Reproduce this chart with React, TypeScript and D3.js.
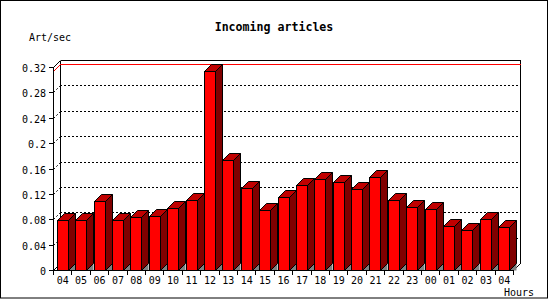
import React from "react";
import * as d3 from "d3";

const hours = ["04","05","06","07","08","09","10","11","12","13","14","15","16","17","18","19","20","21","22","23","00","01","02","03","04"];
const artPerSec = [0.079,0.079,0.109,0.079,0.084,0.085,0.098,0.110,0.313,0.173,0.130,0.094,0.115,0.134,0.143,0.138,0.127,0.146,0.111,0.099,0.096,0.069,0.063,0.080,0.067];
const yTicks = [0,0.04,0.08,0.12,0.16,0.2,0.24,0.28,0.32];
const yTickLabels = ["0","0.04","0.08","0.12","0.16","0.2","0.24","0.28","0.32"];

const W = 550, H = 300;
const D = 7;
const left = 53, right = 513, bottom = 270, top = 67;
const FONT = "'DejaVu Sans Mono', 'Liberation Mono', monospace";

export default function App() {
  const x = d3.scaleBand<number>().domain(hours.map((_, i) => i)).range([left, right]).padding(0);
  const y = d3.scaleLinear().domain([0, 0.32]).range([bottom, top]);
  const maxV = d3.max(artPerSec) as number;
  const ym = Math.round(y(maxV));
  const bw = 11;

  return (
    <svg width={W} height={H} style={{ position: "fixed", left: 0, top: 0, background: "#fff" }}>
      <rect x={0.5} y={0.5} width={547} height={297.5} fill="#fff" stroke="#000" strokeWidth={1} />
      <text x={274} y={27} textAnchor="middle" dominantBaseline="central" fontFamily={FONT} fontWeight="bold" fontSize={11.6}>Incoming articles</text>
      <text x={29} y={37.5} dominantBaseline="central" fontFamily={FONT} fontSize={10}>Art/sec</text>
      <text x={504} y={292} dominantBaseline="central" fontFamily={FONT} fontSize={10}>Hours</text>

      {/* gridlines on back plane */}
      <g shapeRendering="crispEdges">
        {yTicks.slice(1, -1).map((t, i) => {
          const yy = Math.round(y(t)) + 0.5;
          return (
            <g key={i}>
              <line x1={left + D} x2={right + D} y1={yy - D} y2={yy - D} stroke="#000" strokeDasharray="2,2" />
            </g>
          );
        })}
      </g>
      {yTicks.slice(1, -1).map((t, i) => {
        const yy = Math.round(y(t)) + 0.5;
        return <line key={i} x1={left + 0.5} y1={yy} x2={left + D + 0.5} y2={yy - D} stroke="#000" strokeDasharray="2,2" />;
      })}

      {/* back frame */}
      <g shapeRendering="crispEdges" stroke="#000" fill="none">
        <line x1={left + D + 0.5} x2={right + D + 0.5} y1={top - D + 0.5} y2={top - D + 0.5} />
        <line x1={left + D + 0.5} x2={left + D + 0.5} y1={top - D + 0.5} y2={bottom - D + 0.5} />
        <line x1={right + D + 0.5} x2={right + D + 0.5} y1={top - D + 0.5} y2={bottom - D + 0.5} />
      </g>
      <line x1={left + 0.5} y1={top + 0.5} x2={left + D + 0.5} y2={top - D + 0.5} stroke="#000" />
      <line x1={left + 0.5} y1={bottom + 0.5} x2={left + D + 0.5} y2={bottom - D + 0.5} stroke="#000" />
      <line x1={right + 0.5} y1={bottom + 0.5} x2={right + D + 0.5} y2={bottom - D + 0.5} stroke="#000" />

      {/* max line */}
      <line x1={left + D} x2={right + D + 1} y1={ym - D + 0.5} y2={ym - D + 0.5} stroke="#f00" shapeRendering="crispEdges" />
      <line x1={left + 0.5} y1={ym + 0.5} x2={left + D + 0.5} y2={ym - D + 0.5} stroke="#f00" />

      {/* bars */}
      {artPerSec.map((v, i) => {
        const cx = (x(i) as number) + x.bandwidth() / 2;
        const x0 = Math.round(cx - bw / 2) + 0.5;
        const x1 = x0 + bw;
        const yt = Math.round(y(v)) + 0.5;
        const yb = bottom + 0.5;
        return (
          <g key={i} stroke="#000" strokeWidth={1} strokeLinejoin="miter">
            <polygon points={`${x1},${yb} ${x1 + D},${yb - D} ${x1 + D},${yb}`} fill="#808080" stroke="none" />
            <polygon points={`${x1},${yt} ${x1 + D},${yt - D} ${x1 + D},${yb - D} ${x1},${yb}`} fill="#800000" />
            <polygon points={`${x0},${yt} ${x0 + D},${yt - D} ${x1 + D},${yt - D} ${x1},${yt}`} fill="#c00000" />
            <rect x={x0} y={yt} width={bw} height={yb - yt} fill="#ff0000" />
          </g>
        );
      })}

      {/* front axes */}
      <g shapeRendering="crispEdges" stroke="#000">
        <line x1={left + 0.5} x2={left + 0.5} y1={top} y2={bottom + 1} />
        <line x1={left} x2={right + 1} y1={bottom + 0.5} y2={bottom + 0.5} />
        {yTicks.map((t, i) => {
          const yy = Math.round(y(t)) + 0.5;
          return <line key={i} x1={left - 4} x2={left} y1={yy} y2={yy} />;
        })}
        {d3.range(hours.length + 1).map((i) => {
          const xx = Math.round(left + i * x.bandwidth()) + 0.5;
          return <line key={i} x1={xx} x2={xx} y1={bottom} y2={bottom + 5} />;
        })}
      </g>
      {yTicks.map((t, i) => (
        <text key={i} x={46} y={Math.round(y(t)) + 1} textAnchor="end" dominantBaseline="central" fontFamily={FONT} fontSize={10}>{yTickLabels[i]}</text>
      ))}
      {hours.map((h, i) => (
        <text key={i} x={(x(i) as number) + x.bandwidth() / 2 + 0.5} y={280} textAnchor="middle" dominantBaseline="central" fontFamily={FONT} fontSize={10}>{h}</text>
      ))}
    </svg>
  );
}
